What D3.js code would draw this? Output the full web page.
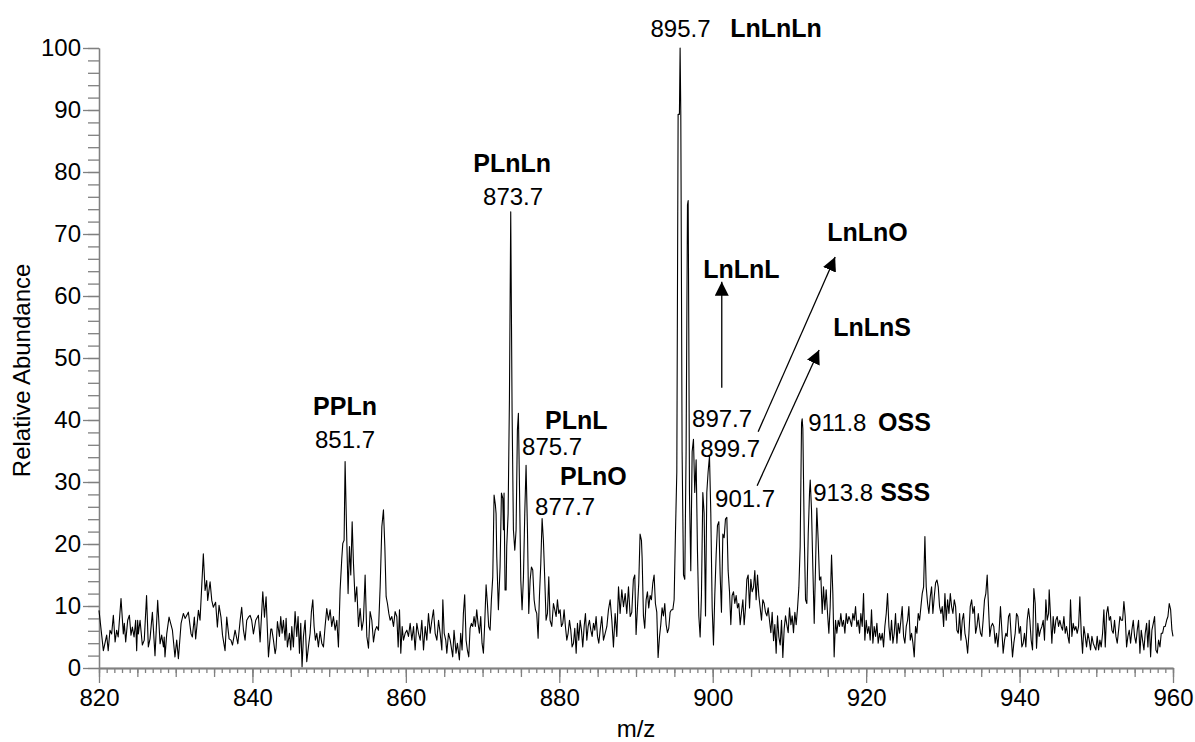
<!DOCTYPE html>
<html>
<head>
<meta charset="utf-8">
<script src="https://cdn.jsdelivr.net/npm/d3@7"></script>
<style>
body { margin: 0; background: #fff; }
text { font-family: "Liberation Sans", Arial, sans-serif; }
</style>
</head>
<body>
<div id="chart"></div>
<script>
// spectrum as [m/z, relative abundance]
var scan = [
[820.0,9.3],[820.57,2.8],[821.0,5.3],[821.2,2.8],[821.43,6.1],[821.65,5.5],[821.87,8.5],[822.1,4.2],[822.3,6.1],[822.5,5.0],
[822.87,11.2],[823.17,5.5],[823.3,7.2],[823.48,4.2],[823.74,7.7],[823.96,8.5],[824.17,5.3],[824.35,6.6],[824.57,5.0],[824.78,7.7],
[824.91,2.8],[825.04,7.7],[825.13,5.5],[825.35,7.7],[825.65,3.7],[825.9,4.5],[826.2,11.7],[826.43,3.4],[826.65,4.7],[826.96,9.0],
[827.3,2.0],[827.65,10.9],[827.96,3.9],[828.17,5.3],[828.4,3.4],[828.5,5.0],[828.6,1.8],[828.83,5.5],[829.13,8.2],[829.57,6.1],
[829.9,1.8],[830.13,4.5],[830.35,1.5],[830.7,7.2],[831.0,8.8],[831.22,8.0],[831.65,9.0],[832.0,5.5],[832.17,5.0],[832.43,8.2],
[832.6,4.7],[832.96,9.3],[833.17,7.7],[833.6,18.4],[833.83,12.5],[834.04,14.1],[834.17,10.9],[834.48,13.9],[834.7,10.9],[834.9,9.8],
[835.2,10.6],[835.43,6.6],[835.65,10.1],[835.9,8.2],[836.1,5.3],[836.43,2.8],[836.65,8.2],[836.96,4.7],[837.2,4.5],[837.4,3.7],
[837.74,6.1],[838.1,3.9],[838.4,7.7],[838.6,9.8],[838.83,6.1],[839.04,4.5],[839.26,7.7],[839.48,8.2],[839.7,8.5],[839.9,7.7],
[840.13,5.5],[840.43,7.7],[840.78,8.5],[841.0,4.2],[841.35,12.3],[841.57,8.2],[841.78,11.5],[842.09,1.8],[842.4,6.3],[842.52,6.3],
[842.74,4.5],[842.96,2.3],
[843.08,3.2],[843.26,7.5],[843.52,5.1],[843.69,8.3],[843.87,5.6],[844.04,7.7],[844.26,4.5],[844.39,8.0],[844.56,3.4],[844.82,5.6],
[845.0,2.9],[845.13,6.7],[845.34,3.4],[845.56,9.1],[845.78,5.1],[845.95,8.3],[846.13,2.4],[846.3,7.2],[846.47,0.2],[846.65,5.1],
[846.87,7.7],[847.08,1.0],[847.3,3.4],[847.52,5.6],[847.69,9.1],[847.87,11.0],[848.04,6.7],[848.21,4.5],[848.39,5.6],[848.6,3.4],
[848.82,5.9],[849.04,4.0],[849.26,3.4],[849.47,6.7],[849.69,9.6],[849.91,7.7],[850.13,9.4],[850.34,6.7],[850.56,8.3],[850.78,6.1],
[851.0,7.7],[851.21,3.4],[851.43,12.6],[851.65,17.7],[851.78,20.1],[851.95,20.6],[852.08,33.3],[852.3,20.6],[852.47,12.0],[852.65,19.6],
[852.82,15.0],[853.0,23.6],[853.17,16.9],[853.39,10.7],[853.6,13.1],[853.82,6.7],[854.04,9.6],[854.26,6.1],[854.47,7.7],[854.69,15.0],
[854.91,5.1],[855.13,3.2],[855.34,9.1],[855.56,7.7],[855.78,4.2],[856.0,6.1],[856.21,6.7],[856.43,6.1],[856.65,13.1],[856.87,22.8],
[857.08,25.5],[857.26,19.6],[857.43,11.5],[857.6,10.4],[857.78,8.8],[857.95,7.7],[858.17,8.3],[858.39,6.7],[858.6,9.1],[858.82,8.3],
[859.0,3.4],[859.17,9.4],[859.34,2.4],[859.52,6.7],[859.69,4.5],[859.91,5.6],[860.13,6.1],[860.34,5.1],[860.56,7.2],[860.78,4.5],
[861.0,6.7],[861.21,2.9],[861.43,7.2],[861.65,5.6],[861.87,4.5],[862.08,7.7],[862.3,2.9],[862.52,6.7],[862.73,4.5],[862.95,8.8],
[863.17,5.6],[863.39,7.7],[863.6,9.4],[863.82,5.6],[864.04,4.5],[864.26,7.7],[864.47,5.6],[864.69,2.9],[864.82,11.0],[865.0,5.6],
[865.2,4.5],[865.34,2.4],[865.56,5.6],[865.78,4.5],
[866.11,1.8],[866.28,6.1],[866.54,2.4],[866.72,4.0],[866.98,1.3],[867.15,5.6],[867.33,2.9],[867.5,8.8],[867.67,11.8],[867.85,4.5],
[868.02,2.9],[868.2,1.8],[868.37,6.4],[868.54,7.2],[868.72,6.7],[868.89,8.3],[869.06,6.7],[869.24,9.4],[869.41,7.2],[869.59,5.6],
[869.76,8.3],[869.93,4.0],[870.11,2.4],[870.28,7.2],[870.46,13.4],[870.63,10.4],[870.8,6.7],[870.98,6.1],[871.15,11.0],[871.33,14.7],
[871.5,27.9],[871.67,26.3],[871.76,24.9],[871.85,18.0],[872.06,9.4],[872.28,16.3],[872.46,28.2],[872.63,27.4],[872.72,22.3],[872.8,28.2],
[872.93,12.6],[873.07,12.6],[873.15,19.6],[873.33,24.9],[873.5,43.2],[873.67,73.6],[873.85,41.1],[874.02,22.3],[874.2,19.0],[874.37,22.3],
[874.54,38.4],[874.67,41.1],[874.8,30.3],[874.98,14.2],[875.15,9.4],[875.33,14.7],[875.5,24.9],[875.67,32.7],[875.85,22.3],[876.02,8.8],
[876.2,14.2],[876.37,16.3],[876.54,15.8],[876.72,11.0],[876.89,9.4],[877.06,8.8],[877.24,4.8],[877.41,11.5],[877.59,16.9],[877.76,24.1],
[877.93,20.6],[878.11,14.2],[878.28,7.7],[878.46,8.8],[878.63,14.7],[878.8,7.7],[879.02,6.7],[879.24,10.4],[879.41,9.4],[879.59,8.3],
[879.76,11.0],[879.93,8.8],[880.11,9.4],[880.28,6.7],[880.46,7.2],[880.63,9.4],[880.8,6.7],[880.98,4.5],[881.15,5.6],[881.33,7.7],
[881.5,6.1],[881.67,3.4],[881.85,4.0],[882.02,6.4],[882.2,2.4],[882.37,7.2],[882.54,4.5],[882.72,7.7],[882.89,6.1],[883.06,3.4],
[883.24,6.7],[883.41,8.8],[883.59,4.5],[883.76,6.7],[883.93,7.7],[884.11,6.1],[884.28,5.1],[884.46,7.2],[884.63,6.1],[884.8,8.3],
[884.98,5.1],[885.15,4.0],[885.33,6.1],[885.54,8.3],[885.76,4.5],[885.98,5.6],[886.2,6.7],[886.41,9.4],[886.63,11.0],[886.85,7.7],
[887.06,3.4],[887.28,8.8],[887.5,5.1],[887.72,13.1],[887.93,8.8],[888.15,12.6],[888.37,9.9],[888.59,12.0],[888.8,8.8],[889.02,13.1],
[889.24,8.3],
[889.45,9.0],[889.66,14.3],[889.84,15.0],[890.01,5.4],[890.19,9.7],[890.36,13.7],[890.53,21.6],[890.71,20.6],[890.8,17.7],[890.97,8.4],
[891.14,6.4],[891.32,11.0],[891.49,12.3],[891.66,9.7],[891.84,11.7],[892.01,11.0],[892.19,13.7],[892.36,15.0],[892.53,10.4],[892.71,9.0],
[892.88,1.7],[893.06,5.0],[893.23,7.0],[893.4,9.7],[893.58,8.4],[893.75,10.4],[893.93,7.0],[894.1,5.7],[894.27,6.4],[894.45,9.0],
[894.62,9.4],[894.8,9.4],[894.97,11.0],[895.14,21.6],[895.32,31.6],[895.49,89.3],[895.66,89.3],[895.75,100],[895.84,89.3],[896.01,34.9],
[896.19,15.0],[896.36,14.3],[896.53,34.9],[896.71,74.7],[896.8,75.4],[896.88,54.8],[896.97,28.3],[897.14,15.7],[897.32,34.9],[897.49,36.9],
[897.66,28.3],[897.84,33.6],[898.01,19.0],[898.19,8.4],[898.36,5.0],[898.53,11.7],[898.71,28.3],[898.88,25.0],[899.06,8.4],[899.23,28.3],
[899.4,31.6],[899.58,34.2],[899.75,25.0],[899.93,9.7],[900.1,3.7],[900.27,11.7],[900.45,18.3],[900.62,23.0],[900.8,23.6],[900.97,15.0],
[901.14,9.0],[901.32,21.6],[901.49,21.0],[901.66,24.0],[901.84,24.3],[902.01,15.7],[902.19,12.3],[902.36,7.0],[902.53,11.7],[902.71,12.3],
[902.88,10.4],[903.06,11.7],[903.23,9.7],[903.4,10.4],[903.58,7.0],[903.75,9.0],[903.93,11.0],[904.1,7.0],[904.27,9.7],[904.45,14.3],
[904.62,15.0],[904.8,9.7],[904.97,14.3],[905.14,12.3],[905.32,13.0],[905.49,15.7],[905.66,11.0],[905.84,15.0],[906.01,11.7],[906.19,9.7],
[906.36,7.7],[906.53,11.0],[906.71,10.4],[906.88,9.0],[907.06,8.4],[907.23,9.7],[907.4,7.7],[907.58,5.7],[907.75,9.0],[907.93,4.4],
[908.1,7.0],[908.27,2.4],[908.45,8.4],[908.62,5.0],[908.8,3.7],[908.97,7.7],[909.14,1.7],[909.32,6.4],[909.49,8.4],[909.66,7.0],
[909.84,5.7],[910.01,9.7],[910.19,7.0],[910.36,8.4],[910.53,5.7],[910.71,9.0],[910.88,7.0],[911.06,9.7],[911.23,13.0],[911.4,19.6],
[911.58,39.5],[911.66,40.2],[911.75,38.6],[911.93,21.6],[912.1,11.0],[912.27,10.4],[912.45,21.6],[912.62,28.3],[912.71,30.3],
[912.88,25.5],[913.05,16.3],[913.23,7.2],[913.4,16.3],[913.57,25.8],[913.75,20.6],[913.92,14.2],[914.1,14.7],[914.27,8.8],[914.44,13.1],
[914.62,9.4],[914.79,12.6],[914.97,8.8],[915.14,5.6],[915.31,9.9],[915.49,18.2],[915.66,12.0],[915.83,1.8],[916.01,7.7],[916.18,5.6],
[916.36,7.7],[916.53,6.7],[916.7,8.8],[916.88,6.7],[917.05,7.7],[917.23,5.6],[917.4,8.8],[917.57,7.2],[917.75,8.3],[917.92,7.7],
[918.1,6.7],[918.27,8.8],[918.44,7.7],[918.62,9.9],[918.79,6.7],[918.97,7.7],[919.14,5.6],[919.31,8.8],[919.49,6.7],[919.66,12.0],
[919.83,4.5],[920.01,7.7],[920.18,5.6],[920.36,6.7],[920.53,4.5],[920.7,9.4],[920.88,4.0],[921.05,6.7],[921.23,5.1],[921.4,7.2],
[921.57,4.0],[921.75,5.6],[921.92,4.5],[922.1,5.6],[922.27,3.4],[922.44,6.7],[922.62,8.8],[922.79,12.0],[922.97,6.7],[923.14,4.5],
[923.31,7.7],[923.49,4.0],[923.66,5.6],[923.83,8.8],[924.01,4.0],[924.18,7.2],[924.36,5.6],[924.53,7.7],[924.7,9.9],[924.88,5.1],
[925.05,4.0],[925.23,6.7],[925.4,7.7],[925.57,9.9],[925.75,4.5],[925.92,5.6],[926.1,4.0],[926.27,1.8],[926.44,6.7],[926.62,5.6],
[926.79,8.8],[926.97,7.7],[927.14,9.9],[927.31,12.0],[927.49,13.1],[927.66,21.2],[927.83,13.1],[928.01,10.4],[928.18,8.8],[928.36,11.5],
[928.53,13.1],[928.7,8.8],[928.88,11.5],[929.05,13.7],[929.23,14.2],[929.4,13.1],[929.57,9.9],[929.75,8.8],[929.92,9.9],[930.1,6.7],
[930.27,12.0],[930.44,7.7],[930.62,11.0],[930.79,8.8],[930.97,12.0],[931.14,9.9],[931.31,8.8],[931.49,11.0],[931.66,9.9],[931.83,6.1],
[932.01,5.6],[932.18,8.8],[932.36,4.5],[932.53,7.7],[932.7,8.8],[932.88,5.6],[933.05,4.5],[933.23,2.4],[933.4,5.6],[933.57,9.9],
[933.75,11.0],[933.92,8.8],[934.1,9.9],[934.27,5.6],[934.44,6.7],[934.62,8.8],[934.79,6.7],
[934.91,5.6],[935.08,5.1],[935.25,7.7],[935.43,11.0],[935.6,12.0],[935.78,15.0],[935.95,9.9],[936.12,5.1],[936.3,6.7],[936.47,7.2],
[936.64,6.7],[936.82,4.0],[936.99,5.6],[937.17,3.4],[937.34,6.1],[937.51,9.9],[937.69,6.1],[937.86,2.4],[938.04,4.5],[938.21,5.6],
[938.38,5.1],[938.56,8.3],[938.73,8.8],[938.91,5.1],[939.08,1.8],[939.25,4.0],[939.43,5.6],[939.6,8.8],[939.78,8.3],[939.95,5.6],
[940.12,6.7],[940.3,3.4],[940.47,4.0],[940.64,5.6],[940.82,3.4],[940.99,7.7],[941.17,9.6],[941.34,7.7],[941.51,4.5],[941.69,2.9],
[941.86,12.8],[942.04,10.4],[942.21,3.2],[942.38,7.2],[942.56,5.1],[942.73,6.1],[942.91,6.7],[943.08,7.7],[943.25,4.5],[943.43,11.0],
[943.6,7.7],[943.78,8.8],[943.86,12.6],[944.04,8.3],[944.21,4.0],[944.38,8.3],[944.56,5.6],[944.73,7.7],[944.91,8.3],[945.08,6.7],
[945.25,7.7],[945.43,6.7],[945.6,6.1],[945.78,8.3],[945.95,5.6],[946.12,6.7],[946.3,5.1],[946.47,4.0],[946.64,11.0],[946.82,5.1],
[946.99,7.2],[947.17,6.1],[947.34,6.7],[947.51,5.6],[947.69,6.7],[947.86,11.5],[948.04,5.6],[948.21,2.4],[948.38,6.7],[948.56,5.1],
[948.73,3.4],[948.91,5.6],[949.08,4.5],[949.25,2.9],[949.43,5.1],[949.6,4.0],[949.78,3.4],[949.95,2.9],[950.12,5.1],[950.3,2.9],
[950.47,4.5],[950.64,3.4],[950.82,5.6],[950.99,9.4],[951.17,3.4],[951.34,8.8],[951.51,9.9],[951.69,7.7],[951.86,8.3],[952.04,6.1],
[952.21,5.6],[952.38,7.7],[952.56,5.1],[952.73,4.0],[952.91,6.1],[953.08,8.3],[953.25,7.7],[953.43,7.7],[953.6,10.7],[953.77,8.3],
[953.95,3.4],[954.12,5.1],[954.3,6.1],[954.47,4.0],[954.64,6.1],[954.82,7.7],[954.99,5.1],[955.17,4.0],[955.34,6.1],[955.51,7.7],
[955.69,2.4],[955.86,6.1],[956.03,4.5],[956.21,2.9],[956.38,5.6],[956.56,7.2],[956.73,3.4],[956.9,7.7],[957.08,1.8],[957.25,6.1],
[957.43,7.2],[957.6,8.3],[957.77,2.9],[957.95,2.4],[958.12,4.5],[958.3,3.4],[958.47,5.6],[958.64,5.6],[958.82,6.7],[958.99,6.7],
[959.17,7.7],[959.34,8.3],[959.51,10.4],[959.69,9.4],[959.86,6.1],[960.0,5.1]
];

var x_ticks = [820, 840, 860, 880, 900, 920, 940, 960];
var y_ticks = [0, 10, 20, 30, 40, 50, 60, 70, 80, 90, 100];

// peak m/z labels and the triacylglycerols they belong to
var mass_labels = ['851.7', '873.7', '875.7', '877.7', '895.7', '897.7', '899.7', '901.7', '911.8', '913.8'];
var tag_names = ['PPLn', 'PLnLn', 'PLnL', 'PLnO', 'LnLnLn', 'LnLnL', 'LnLnO', 'LnLnS', 'OSS', 'SSS'];

var chart_width = 1195;
var chart_height = 742;

var svg = d3.select('#chart')
    .append('svg')
    .attr('width', chart_width)
    .attr('height', chart_height)

var x_scale = d3.scaleLinear()
    .domain([820, 960])
    .range([99, 1173])

var y_scale = d3.scaleLinear()
    .domain([0, 100])
    .range([668, 48])

var axis_color = '#808080';

function style_axis(g, show_text) {
    g.selectAll('.domain').attr('stroke', axis_color).attr('stroke-width', 1.3)
    g.selectAll('.tick line').attr('stroke', axis_color).attr('stroke-width', 1.3)
    g.selectAll('.tick text')
        .attr('fill', '#000')
        .style('font-size', '24px')
        .style('display', show_text ? null : 'none')
}

// x axis: minor ticks every 1, medium every 5, labelled every 20
svg.append('g')
    .attr('transform', 'translate(0,668)')
    .call(d3.axisBottom(x_scale).tickValues(d3.range(820, 961, 1)).tickSize(5).tickSizeOuter(0).tickFormat(''))
    .call(style_axis, false)
svg.append('g')
    .attr('transform', 'translate(0,668)')
    .call(d3.axisBottom(x_scale).tickValues(d3.range(820, 961, 5)).tickSize(9).tickSizeOuter(0).tickFormat(''))
    .call(style_axis, false)
svg.append('g')
    .attr('transform', 'translate(0,668)')
    .call(d3.axisBottom(x_scale).tickValues(x_ticks).tickSize(15).tickPadding(6).tickSizeOuter(0))
    .call(style_axis, true)

// y axis: minor ticks every 2, labelled every 10
svg.append('g')
    .attr('transform', 'translate(99,0)')
    .call(d3.axisLeft(y_scale).tickValues(d3.range(0, 101, 2)).tickSize(11).tickSizeOuter(0).tickFormat(''))
    .call(style_axis, false)
svg.append('g')
    .attr('transform', 'translate(99,0)')
    .call(d3.axisLeft(y_scale).tickValues(y_ticks).tickSize(16).tickPadding(2).tickSizeOuter(0))
    .call(style_axis, true)

svg.append('text')
    .attr('x', x_scale(890))
    .attr('y', 737)
    .attr('text-anchor', 'middle')
    .style('font-size', '24px')
    .text('m/z')

svg.append('text')
    .attr('transform', 'translate(30,' + y_scale(48) + ') rotate(-90)')
    .attr('text-anchor', 'middle')
    .style('font-size', '24px')
    .text('Relative Abundance')

// the spectrum
var line = d3.line()
    .x(function (d) { return x_scale(d[0]) })
    .y(function (d) { return y_scale(d[1]) })

svg.append('path')
    .datum(scan)
    .attr('d', line)
    .attr('fill', 'none')
    .attr('stroke', '#000')
    .attr('stroke-width', 1.1)
    .attr('stroke-linejoin', 'round')

// label placement in data units: [m/z, abundance, anchor]
var mass_pos = [
    [852.07, 35.5, 'middle'], [873.98, 74.7, 'middle'], [875.15, 34.4, 'start'], [876.85, 24.7, 'start'],
    [895.8, 101.8, 'middle'], [897.31, 38.9, 'start'], [898.36, 34.0, 'start'], [900.31, 26.0, 'start'],
    [912.44, 38.2, 'start'], [913.09, 26.9, 'start']
];
var name_pos = [
    [852.07, 40.8, 'middle'], [873.85, 80.0, 'middle'], [878.15, 38.5, 'start'], [880.1, 29.5, 'start'],
    [902.27, 101.8, 'start'], [898.75, 62.9, 'start'], [914.92, 68.9, 'start'], [915.7, 53.5, 'start'],
    [921.56, 38.2, 'start'], [921.83, 26.9, 'start']
];

svg.selectAll('text.mass')
    .data(mass_labels)
    .enter()
    .append('text')
    .attr('class', 'mass')
    .attr('x', function (d, i) { return x_scale(mass_pos[i][0]) })
    .attr('y', function (d, i) { return y_scale(mass_pos[i][1]) })
    .attr('text-anchor', function (d, i) { return mass_pos[i][2] })
    .style('font-size', '24px')
    .text(function (d) { return d })

svg.selectAll('text.tag')
    .data(tag_names)
    .enter()
    .append('text')
    .attr('class', 'tag')
    .attr('x', function (d, i) { return x_scale(name_pos[i][0]) })
    .attr('y', function (d, i) { return y_scale(name_pos[i][1]) })
    .attr('text-anchor', function (d, i) { return name_pos[i][2] })
    .style('font-size', '25px')
    .style('font-weight', 'bold')
    .text(function (d) { return d })

// arrows pointing from the small peaks to their names
var arrows = [
    [[901.18, 45.2], [901.18, 62.3]],
    [[905.92, 38.1], [915.96, 66.3]],
    [[905.79, 29.4], [913.87, 51.3]]
];

svg.append('defs')
    .append('marker')
    .attr('id', 'head')
    .attr('markerUnits', 'userSpaceOnUse')
    .attr('viewBox', '0 0 12 12')
    .attr('refX', 12)
    .attr('refY', 6)
    .attr('markerWidth', 14)
    .attr('markerHeight', 14)
    .attr('orient', 'auto')
    .append('path')
    .attr('d', 'M0,0 L12,6 L0,12 Z')
    .attr('fill', '#000')

svg.selectAll('line.arrow')
    .data(arrows)
    .enter()
    .append('line')
    .attr('class', 'arrow')
    .attr('x1', function (d) { return x_scale(d[0][0]) })
    .attr('y1', function (d) { return y_scale(d[0][1]) })
    .attr('x2', function (d) { return x_scale(d[1][0]) })
    .attr('y2', function (d) { return y_scale(d[1][1]) })
    .attr('stroke', '#000')
    .attr('stroke-width', 1.3)
    .attr('marker-end', 'url(#head)')
</script>
</body>
</html>
